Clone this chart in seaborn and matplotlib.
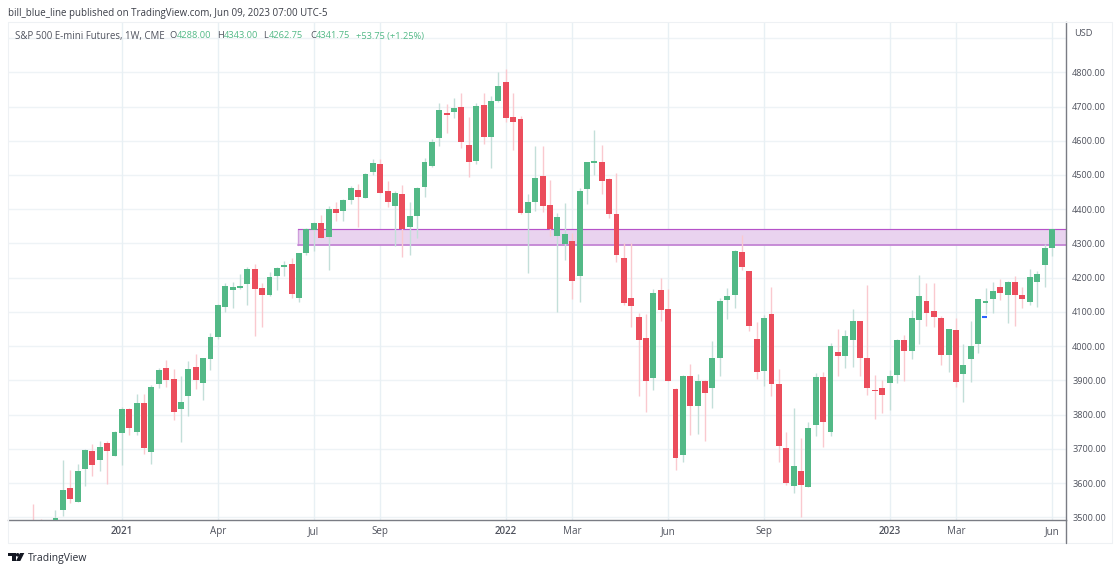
import matplotlib
matplotlib.use("Agg")
import matplotlib.pyplot as plt
from matplotlib.patches import Polygon, Circle, Rectangle
from matplotlib.transforms import Affine2D
import numpy as np
import pandas as pd
import seaborn as sns

opens = [3470,3480,3462,3472,3520,3586,3544,3642,3695,3668,
         3717,3680,3747,3816,3749,3835,3691,3888,3936,3904,
         3816,3854,3938,3892,3961,4027,4113,4164,4170,4181,
         4225,4169,4150,4206,4232,4239,4142,4273,4339,4361,
         4319,4400,4395,4426,4455,4434,4508,4532,4452,4410,
         4445,4347,4380,4464,4526,4607,4680,4684,4700,4588,
         4541,4704,4611,4716,4771,4670,4665,4388,4422,4496,
         4411,4322,4298,4307,4205,4458,4535,4537,4488,4387,
         4258,4142,4086,4023,3908,4164,4109,3876,3682,3913,
         3826,3899,3877,3966,4136,4149,4276,4220,4021,3928,
         4095,3888,3702,3592,3636,3589,3770,3909,3748,3982,
         3971,4018,4073,3964,3872,3877,3893,3916,4018,3985,
         4075,4133,4103,4081,3974,4048,3919,3962,4006,4126,
         4138,4174,4148,4188,4150,4130,4186,4238,4288]
closes = [3455,3465,3478,3499,3580,3552,3636,3697,3652,3705,
          3694,3749,3817,3761,3833,3702,3880,3930,3900,3809,
          3838,3932,3900,3964,4026,4120,4176,4172,4175,4225,
          4168,4150,4202,4229,4236,4153,4271,4342,4359,4316,
          4402,4388,4428,4462,4435,4504,4534,4448,4420,4446,
          4343,4381,4463,4537,4597,4690,4675,4695,4595,4538,
          4703,4610,4715,4759,4667,4654,4388,4422,4492,4409,
          4343,4378,4327,4191,4453,4537,4540,4483,4386,4266,
          4126,4118,4018,3897,4155,4105,3899,3673,3914,3826,
          3899,3863,3964,4133,4145,4279,4230,4058,3923,4083,
          3888,3707,3600,3650,3595,3762,3909,3778,3999,3972,
          4030,4074,3966,3877,3868,3858,3914,4017,3986,4083,
          4146,4098,4085,3973,4049,3895,3945,4000,4137,4131,
          4162,4154,4188,4148,4137,4203,4212,4287,4341.75]
highs = [3540,3496,3488,3522,3668,3637,3655,3698,3713,3722,
         3723,3752,3822,3820,3860,3861,3887,3935,3959,3933,
         3912,3957,3978,3965,4037,4124,4183,4186,4211,4232,
         4239,4185,4218,4230,4249,4257,4273,4346,4362,4384,
         4409,4420,4430,4468,4475,4507,4548,4546,4483,4454,
         4470,4421,4465,4551,4605,4711,4706,4724,4740,4668,
         4709,4741,4731,4800,4809,4739,4672,4444,4585,4584,
         4485,4390,4417,4331,4463,4537,4630,4587,4490,4507,
         4302,4301,4097,4093,4167,4200,4166,3878,3917,3948,
         3919,3900,4015,4141,4171,4282,4326,4220,4070,4090,
         4173,3934,3750,3818,3732,3777,3921,3924,4009,4050,
         4048,4109,4074,4180,3917,3900,3929,4021,4033,4107,
         4207,4185,4185,4087,4050,4083,4007,4072,4138,4170,
         4187,4197,4190,4204,4172,4226,4220,4297,4343]
lows = [3440,3450,3440,3460,3505,3541,3544,3591,3620,3635,
        3596,3678,3654,3741,3740,3684,3657,3878,3881,3785,
        3720,3796,3874,3843,3930,4022,4100,4110,4168,4120,
        4029,4057,4146,4164,4206,4141,4128,4265,4278,4315,
        4223,4365,4365,4414,4348,4433,4500,4447,4407,4292,
        4260,4267,4317,4436,4524,4586,4624,4667,4578,4493,
        4532,4590,4521,4712,4654,4573,4387,4214,4395,4391,
        4321,4101,4251,4137,4129,4415,4500,4444,4375,4246,
        4119,4056,3854,3807,3872,4072,3898,3639,3660,3739,
        3743,3724,3820,3913,4080,4112,4221,4044,3903,3883,
        3853,3660,3595,3571,3501,3587,3736,3704,3737,3912,
        3937,3940,3912,3856,3787,3804,3812,3892,3899,3963,
        4007,4060,4056,3946,3924,3880,3838,3896,3979,4095,
        4098,4134,4067,4060,4111,4119,4114,4173,4262.75]
tick_idx = [12,25,38,47,64,73,86,99,116,125,138]
tick_txt = ["2021","Apr","Jul","Sep","2022","Mar","Jun","Sep","2023","Mar","Jun"]
bold_txt = ["2021","2022","2023"]
price_grid = list(range(3500,5000,100))
price_labels = [f"{p}.00" if p<4900 else "" for p in price_grid]
zone_lo, zone_hi = 4294.6, 4342.5
zone_start = 36
orange_mark = (128, 4094)
blue_mark = (128.85, 4085)

W, H = 1120, 572
GREEN, RED = "#53b987", "#eb4d5c"
GW, RW = "#c3dfd9", "#fac9cf"
TXT = "#50535e"
FONT = "Open Sans"

sns.set_theme(style="white", rc={"font.family":[FONT,"DejaVu Sans"]})
fig = plt.figure(figsize=(W/100,H/100),dpi=100,facecolor="white")
px = Affine2D().scale(1,-1).translate(0,H)   # figure pixels from the top-left
L,R,T,B = 8,1066,22,520
ax = fig.add_axes([L/W,1-B/H,(R-L)/W,(B-T)/H],facecolor="white")

df = pd.DataFrame({"i":np.arange(len(opens)),"o":opens,"c":closes,"h":highs,"l":lows})
df["dir"] = np.where(df.c>=df.o,"up","down")
df["bottom"] = df[["o","c"]].min(axis=1)
df["size"] = (df.c-df.o).abs()
long = df.melt(id_vars=["i","dir"],value_vars=["l","h"],value_name="price").sort_values(["i","price"])

ax.set_axisbelow(True)
for p in price_grid:
    ax.axhline(p,color="#eef3f6",lw=1.0,zorder=0.5)
for t in tick_idx:
    ax.axvline(t,color="#e8f0f4",lw=1.0,zorder=0.5)

ax.add_patch(Rectangle((zone_start-0.1,zone_lo),200,zone_hi-zone_lo,facecolor="#e9d3ef",edgecolor="none",zorder=1))
ax.plot([zone_start-0.1,zone_start-0.1],[zone_lo,zone_hi],color="#cf9fdc",lw=1.0,zorder=1.1)
ax.plot([zone_start-0.1,200],[zone_hi,zone_hi],color="#b652c9",lw=0.85,zorder=1.1)
ax.plot([zone_start-0.1,200],[zone_lo,zone_lo],color="#c385d4",lw=1.3,zorder=1.1)

sns.lineplot(data=long,x="i",y="price",hue="dir",units="i",estimator=None,sort=False,
             palette={"up":GW,"down":RW},lw=1.0,legend=False,ax=ax,zorder=2,
             solid_capstyle="butt")
ax.hlines(orange_mark[1],orange_mark[0]-0.45,orange_mark[0]+0.45,color="#e8a33d",lw=1.4,zorder=2.5)
for d,col in [("up",GREEN),("down",RED)]:
    sub = df[df.dir==d]
    sns.barplot(data=sub,x="i",y="size",bottom=sub["bottom"].to_numpy(),native_scale=True,
                color=col,saturation=1,width=0.8,errorbar=None,
                linewidth=0,ax=ax,zorder=3)
ax.hlines(blue_mark[1],blue_mark[0]-0.35,blue_mark[0]+0.35,color="#2962ff",lw=1.5,zorder=4)

ax.set_xlim(-3.43,139.9)
ax.set_ylim(3492,4947)
ax.set_xlabel(""); ax.set_ylabel("")
ax.set_xticks(tick_idx,tick_txt)
ax.set_yticks(price_grid,price_labels)
ax.yaxis.tick_right()
ax.tick_params(axis="y",length=0,pad=4.5,labelsize=6.6,colors=TXT)
ax.tick_params(axis="x",length=0,pad=4.5,labelsize=7.1,colors=TXT)
for lb in ax.get_xticklabels():
    if lb.get_text() in bold_txt:
        lb.set_fontweight("semibold")
for k in ("top","left"):
    ax.spines[k].set_visible(False)
for k in ("right","bottom"):
    ax.spines[k].set_color("#7a7c84"); ax.spines[k].set_linewidth(1.0)

# outer panel frame
for xs,ys in [((8,1112),(22,22)),((8,1112),(543,543)),((8,8),(22,543)),((1112,1112),(22,543))]:
    fig.add_artist(plt.Line2D(xs,ys,transform=px,color="#eef1f4",lw=0.8))
fig.add_artist(plt.Line2D((1066,1066),(520,543),transform=px,color="#7a7c84",lw=1.0))

def label(x,y,s,color=TXT,size=6.6,**kw):
    fig.text(x,y,s,transform=px,color=color,fontsize=size,va="center",ha="left",**kw)

label(8,13.5,"bill_blue_line published on TradingView.com, Jun 09, 2023 07:00 UTC-5",color="#3a3d47",size=7.0)
label(15,36,"S&P 500 E-mini Futures, 1W, CME",color="#50535e",size=6.9)
for x,s,c in [(169,"O",TXT),(176.7,"4288.00",GREEN),(216.7,"H",TXT),(224,"4343.00",GREEN),
              (263,"L",TXT),(268.7,"4262.75",GREEN),(310,"C",TXT),(315.7,"4341.75",GREEN),
              (356,"+53.75 (+1.25%)",GREEN)]:
    label(x,36,s,color=c,size=6.7)
label(1074,34,"USD",size=6.7)
label(28,558.5,"TradingView",color="#2a2e39",size=7.5)

# logo
for pts in [[(8,553),(15.5,553),(15.5,561),(11.5,561),(11.5,556.3),(8,556.3)],
            [(20,553),(24.3,553),(20.3,561),(16,561)]]:
    fig.add_artist(Polygon(pts,closed=True,transform=px,facecolor="#131722",edgecolor="none"))
fig.add_artist(Circle((17.6,554.8),1.8,transform=px,facecolor="#131722",edgecolor="none"))

fig.savefig("out.png",dpi=100)
